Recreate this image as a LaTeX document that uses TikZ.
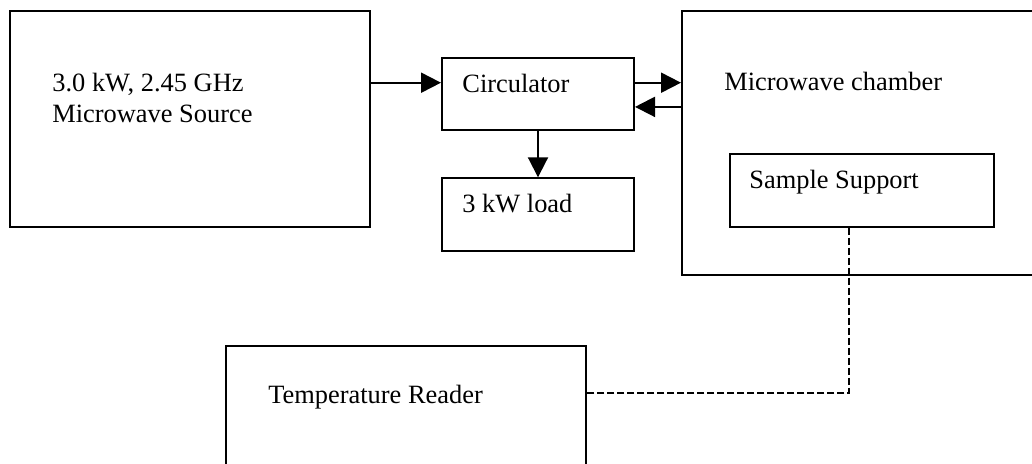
\documentclass[tikz,border=0pt]{standalone}
\usepackage{fontspec}
\setmainfont{Liberation Serif}
\usetikzlibrary{arrows.meta}
\begin{document}
\begin{tikzpicture}[x=0.5pt,y=-0.5pt,
  box/.style={draw,line width=1pt,rectangle,inner sep=0pt,anchor=north west},
  lbl/.style={inner sep=0pt,anchor=base west,font=\fontsize{13.2pt}{15.5pt}\selectfont},
  arr/.style={line width=1pt,-{Triangle[length=10pt,width=10pt]}},
  dsh/.style={line width=1pt,dash pattern=on 3.5pt off 1.5pt}]
\useasboundingbox (0,0) rectangle (1032,464);
\clip (0,0) rectangle (1032,464);
% boxes
\node[box,minimum width=180pt,minimum height=108pt] (src) at (9,10) {};
\node[box,minimum width=96pt,minimum height=36pt] (circ) at (441,57.3) {};
\node[box,minimum width=96pt,minimum height=36.2pt] (load) at (441,177.3) {};
\node[box,minimum width=200pt,minimum height=132pt] (cham) at (681,10) {};
\node[box,minimum width=132pt,minimum height=36.2pt] (samp) at (729,153.3) {};
\node[box,minimum width=180pt,minimum height=100pt] (temp) at (225,345) {};
% labels
\node[lbl] (srcA) at (52,92) {3.0 kW, 2.45 GHz};
\node[lbl] (srcB) at (52,123) {Microwave Source};
\node[lbl] (circT) at (462,92.7) {Circulator};
\node[lbl] (loadT) at (462,212.7) {3 kW load};
\node[lbl] (chamT) at (724,91) {Microwave chamber};
\node[lbl] (sampT) at (749,188.5) {Sample Support};
\node[lbl] (tempT) at (268,403) {Temperature Reader};
% connectors
\coordinate (c1) at ([yshift=5.8pt]circ.west);
\coordinate (c2) at ([yshift=-6.3pt]circ.east);
\coordinate (d1) at (849,393);
\draw[arr] (src.east |- c1) -- (c1);
\draw[arr] (c1 -| circ.east) -- (c1 -| cham.west);
\draw[arr] (c2 -| cham.west) -- (c2);
\draw[arr] (circ.south) -- (load.north);
\draw[dsh] (samp.south -| d1) -- (d1) -- (d1 -| temp.east);
\end{tikzpicture}
\end{document}
